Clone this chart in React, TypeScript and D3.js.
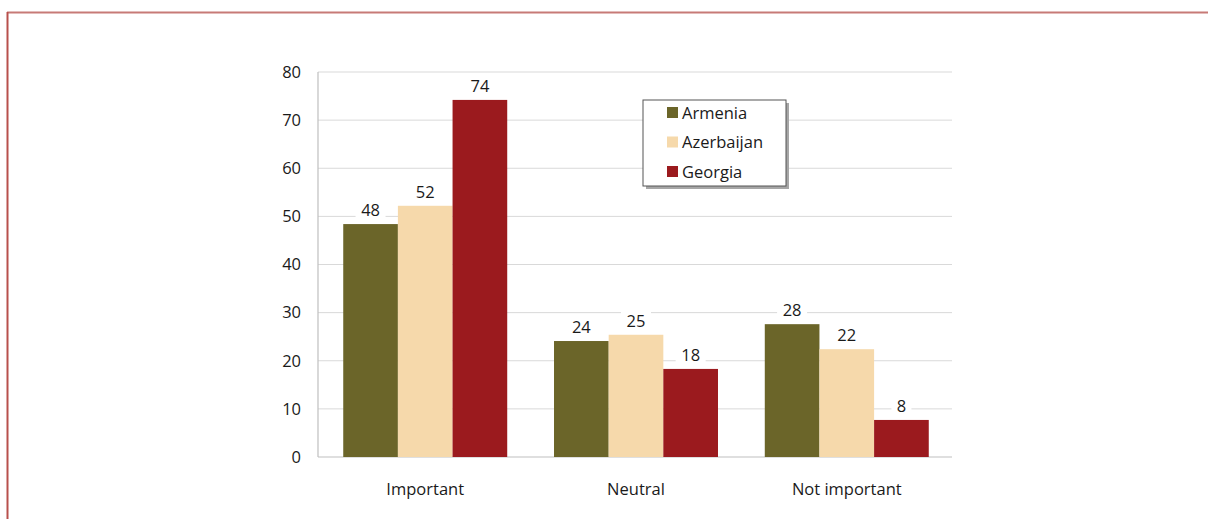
import * as d3 from 'd3';
import React from 'react';

// chart data
const categories = ['Important', 'Neutral', 'Not important'];
const series = ['Armenia', 'Azerbaijan', 'Georgia'];
const armenia = [48.4, 24.1, 27.6];
const azerbaijan = [52.2, 25.4, 22.4];
const georgia = [74.2, 18.3, 7.7];
const yTicks = [0, 10, 20, 30, 40, 50, 60, 70, 80];
const colors = ['#6b6529', '#f6d9ab', '#9b1a1e'];

const values = [armenia, azerbaijan, georgia];
const FONT = '"Open Sans", "Noto Sans", sans-serif';
const FS = 16.5;

const App = () => {
  const width = 1208;
  const height = 519;
  const plot = { left: 318, right: 952, top: 72, bottom: 457 };

  // bars sit a touch right of the axis start in the original
  const x0 = d3.scaleBand()
    .domain(categories)
    .range([plot.left + 1, plot.right + 1])
    .paddingInner(0.222)
    .paddingOuter(0.115);
  const x1 = d3.scaleBand()
    .domain(series)
    .range([0, x0.bandwidth()]);
  const y = d3.scaleLinear()
    .domain([0, 80])
    .range([plot.bottom, plot.top]);
  const f = d3.format('.0f');

  // legend placement
  const lg = { x: 643, y: 100, w: 143, h: 86 };

  return (
    <svg width={width} height={height}
      style={{ position: 'absolute', left: 0, top: 0, background: '#fff' }}
      fontFamily={FONT}>
      {/* frame */}
      <line x1={7} x2={width} y1={12.5} y2={12.5} stroke="#c77a77" strokeWidth={2} />
      <line x1={7.5} x2={7.5} y1={12} y2={height} stroke="#b8504c" strokeWidth={2} />

      {/* grid */}
      {yTicks.map(t => (
        <g key={t}>
          {t > 0 && (
            <line x1={plot.left} x2={plot.right} y1={y(t)} y2={y(t)}
              stroke="#d9d9d9" strokeWidth={1} />
          )}
          <text x={301} y={y(t)} dy="0.35em" textAnchor="end"
            fontSize={FS} fill="#1a1a1a">{t}</text>
        </g>
      ))}
      <line x1={plot.left} x2={plot.left} y1={plot.top} y2={plot.bottom}
        stroke="#bfbfbf" strokeWidth={1.2} />
      <line x1={plot.left} x2={plot.right} y1={plot.bottom} y2={plot.bottom}
        stroke="#bfbfbf" strokeWidth={1.2} />

      {/* bars */}
      {categories.map((c, ci) => (
        <g key={c} transform={`translate(${x0(c)},0)`}>
          {series.map((s, si) => {
            const v = values[si][ci];
            const bx = x1(s) as number;
            const bw = x1.bandwidth();
            const label = f(v);
            const lw = label.length * 10 + 10;
            return (
              <g key={s}>
                <rect x={bx} y={y(v)} width={bw} height={plot.bottom - y(v)}
                  fill={colors[si]} />
                <rect x={bx + bw / 2 - lw / 2} y={y(v) - 25} width={lw} height={20}
                  fill="#fff" />
                <text x={bx + bw / 2} y={y(v) - 8} textAnchor="middle"
                  fontSize={FS} fill="#1a1a1a">{label}</text>
              </g>
            );
          })}
          <text x={x0.bandwidth() / 2} y={495} textAnchor="middle"
            fontSize={FS} fill="#1a1a1a">{c}</text>
        </g>
      ))}

      {/* legend */}
      <rect x={lg.x + 3} y={lg.y + 3} width={lg.w} height={lg.h} fill="#a6a6a6" />
      <rect x={lg.x} y={lg.y} width={lg.w} height={lg.h} fill="#fff"
        stroke="#555" strokeWidth={1} />
      {series.map((s, i) => (
        <g key={s} transform={`translate(${lg.x + 24},${lg.y + 13 + i * 29.5})`}>
          <rect x={0} y={-6} width={11} height={11} fill={colors[i]} />
          <text x={15} y={0} dy="0.35em" fontSize={FS} fill="#1a1a1a">{s}</text>
        </g>
      ))}
    </svg>
  );
};

export default App;
